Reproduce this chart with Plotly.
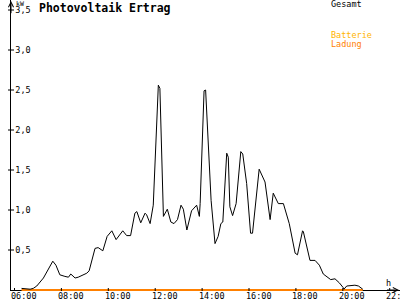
import plotly.graph_objects as go

DAY = "2024-06-01"

# Gesamt (kW) readings
gesamt_times = ["06:18","06:40","06:48","06:57","07:14","07:38","07:46","07:56","08:09","08:18",
                "08:24","08:35","08:43","09:05","09:11","09:26","09:34","09:46","09:57","10:09",
                "10:20","10:37","10:47","10:57","11:08","11:13","11:23","11:34","11:38","11:47",
                "11:55","12:08","12:12","12:21","12:31","12:40","12:48","12:57","13:06","13:12",
                "13:21","13:33","13:46","13:53","13:55","14:05","14:09","14:12","14:23","14:33",
                "14:41","14:48","14:53","15:03","15:07","15:11","15:18","15:27","15:39","15:44",
                "15:54","16:04","16:09","16:26","16:41","16:54","17:02","17:15","17:28","17:43",
                "17:58","18:04","18:17","18:19","18:28","18:36","18:49","19:00","19:10","19:20",
                "19:29","19:40","19:51","20:01","20:03","20:10","20:31","20:40","20:51"]
gesamt_kw = [0.02,0.01,0.02,0.05,0.15,0.36,0.31,0.19,0.17,0.16,
             0.20,0.15,0.16,0.21,0.24,0.52,0.53,0.49,0.67,0.74,
             0.63,0.74,0.68,0.68,0.96,0.98,0.84,0.96,0.94,0.83,
             1.06,2.56,2.52,0.92,1.01,0.85,0.83,0.88,1.06,1.01,
             0.75,0.99,1.06,0.92,1.08,2.49,2.50,2.21,1.12,0.58,
             0.67,0.83,0.85,1.71,1.66,1.04,0.93,1.08,1.73,1.70,
             1.33,0.71,0.71,1.51,1.35,0.88,1.21,1.08,1.08,0.83,
             0.46,0.44,0.74,0.73,0.54,0.37,0.37,0.31,0.20,0.16,
             0.13,0.14,0.09,0.03,0.01,0.05,0.06,0.05,0.01]

# Batterie Ladung (kW)
ladung_times = ["06:18", "20:51"]
ladung_kw = [0.0, 0.0]

x_tick_hours = ["06:00","08:00","10:00","12:00","14:00","16:00","18:00","20:00","22:00"]
x_tick_labels = ["06:00","08:00","10:00","12:00","14:00","16:00","18:00","20:00","22:00"]
y_tick_vals = [0.5, 1.0, 1.5, 2.0, 2.5, 3.0, 3.5]
y_tick_labels = ["0,5", "1,0", "1,5", "2,0", "2,5", "3,0", "3,5"]

title_text = "Photovoltaik Ertrag"
legend_items = ["Gesamt", "Batterie", "Ladung"]
legend_colors = ["#000000", "#ffb400", "#ff8000"]

# layout geometry
W, H = 400, 300
ML, MB = 11, 9
PW, PH = W - ML, H - MB
X_RANGE = [DAY + " 05:51:02", DAY + " 22:26:20"]
Y_RANGE = [-0.0125, 3.625]
MONO = "DejaVu Sans Mono"


def px(x):
    return (x - ML) / PW


def py(y):
    return (PH - y) / PH


def d(t):
    return DAY + " " + t


fig = go.Figure()
fig.add_trace(go.Scatter(x=[d(t) for t in ladung_times], y=ladung_kw, mode="lines",
                         line=dict(color="#ff8000", width=2), hoverinfo="skip"))
fig.add_trace(go.Scatter(x=[d(t) for t in gesamt_times], y=gesamt_kw, mode="lines",
                         line=dict(color="#000000", width=1), hoverinfo="skip"))

shapes = []
for v in y_tick_vals:
    shapes.append(dict(type="line", xref="paper", yref="y", xsizemode="pixel", xanchor=0,
                       x0=-3, x1=3, y0=v, y1=v, line=dict(color="black", width=1)))
for t in x_tick_hours:
    shapes.append(dict(type="line", xref="x", yref="y", ysizemode="pixel", yanchor=0,
                       x0=d(t), x1=d(t), y0=-2, y1=2, line=dict(color="black", width=1)))

annotations = [
    dict(text="<b>" + title_text + "</b>", xref="paper", yref="paper", x=px(38), y=py(7.5),
         xanchor="left", yanchor="middle", showarrow=False, borderpad=0,
         font=dict(family=MONO, size=11.5, color="black")),
    dict(text="kW", xref="paper", yref="paper", x=px(14.5), y=py(3.7),
         xanchor="left", yanchor="middle", showarrow=False, borderpad=0,
         font=dict(family=MONO, size=6.5, color="black")),
    dict(text="h", xref="paper", yref="paper", x=px(384.5), y=py(282.5),
         xanchor="left", yanchor="middle", showarrow=False, borderpad=0,
         font=dict(family=MONO, size=8.5, color="black")),
    # axis arrowheads
    dict(text="", xref="paper", yref="paper", x=0, y=py(0.7), ax=0, ay=14,
         showarrow=True, arrowhead=5, arrowwidth=1, arrowsize=1, arrowcolor="black", standoff=0),
    dict(text="", xref="paper", yref="y", x=px(399.5), y=0, ax=-14, ay=0,
         showarrow=True, arrowhead=5, arrowwidth=1, arrowsize=1, arrowcolor="black", standoff=0),
]
# x tick labels (placed slightly right of each tick, as in the reference)
for t, lab in zip(x_tick_hours, x_tick_labels):
    annotations.append(dict(text=lab, xref="x", yref="paper", x=d(t), y=py(295.5),
                            xanchor="left", yanchor="middle", xshift=-4.5, showarrow=False,
                            borderpad=0, font=dict(family=MONO, size=8.5, color="black")))
legend_y = [4.5, 35.3, 44.3]
for name, col, yy in zip(legend_items, legend_colors, legend_y):
    annotations.append(dict(text=name, xref="paper", yref="paper", x=px(329.5), y=py(yy),
                            xanchor="left", yanchor="middle", showarrow=False, borderpad=0,
                            font=dict(family=MONO, size=8.5, color=col)))

fig.update_layout(
    width=W, height=H,
    margin=dict(l=ML, r=0, t=0, b=MB, pad=0),
    paper_bgcolor="white", plot_bgcolor="white",
    showlegend=False,
    shapes=shapes,
    annotations=annotations,
)
fig.update_xaxes(type="date", range=X_RANGE, showticklabels=False,
                 ticks="", showline=False, showgrid=False, zeroline=False,
                 automargin=False, fixedrange=True)
fig.update_yaxes(range=Y_RANGE, tickmode="array", tickvals=y_tick_vals, ticktext=y_tick_labels,
                 ticks="", showline=True, linecolor="black", linewidth=1,
                 showgrid=False, zeroline=True, zerolinecolor="black", zerolinewidth=1,
                 ticklabelposition="inside", ticklabelstandoff=3,
                 tickfont=dict(family=MONO, size=8.5, color="black"),
                 automargin=False, fixedrange=True)

fig.write_html("out.html", config={"displayModeBar": False})
